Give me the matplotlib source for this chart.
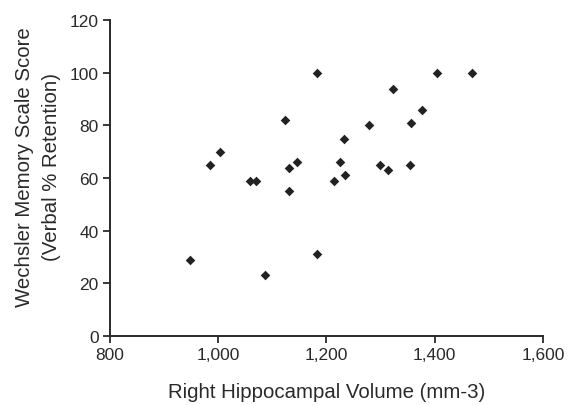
import matplotlib
matplotlib.use("Agg")
import matplotlib.pyplot as plt
from matplotlib.ticker import FuncFormatter

# right hippocampal volume (mm-3) vs verbal % retention
volume = [949, 986, 1003, 1059, 1071, 1087, 1123, 1131, 1131, 1146,
          1182, 1183, 1214, 1226, 1233, 1235, 1278, 1299, 1314, 1324,
          1354, 1357, 1376, 1405, 1469]
score = [29, 65, 70, 59, 59, 23, 82, 64, 55, 66,
         100, 31, 59, 66, 75, 61, 80, 65, 63, 94,
         65, 81, 86, 100, 100]

x_ticks = [800, 1000, 1200, 1400, 1600]
y_ticks = [0, 20, 40, 60, 80, 100, 120]

plt.rcParams['font.family'] = ['Liberation Sans', 'DejaVu Sans']
ink = '#2a2a2a'

fig = plt.figure(figsize=(5.69, 4.06), dpi=100)
ax = fig.add_axes([0.193, 0.170, 0.761, 0.778])

ax.scatter(volume, score, marker='D', s=24, color='#222222', linewidths=0, zorder=3)

ax.set_xlim(800, 1600)
ax.set_ylim(0, 120)
ax.set_xticks(x_ticks)
ax.set_yticks(y_ticks)
ax.xaxis.set_major_formatter(FuncFormatter(lambda v, p: f"{int(v):,}"))

for s in ['top', 'right']:
    ax.spines[s].set_visible(False)
for s in ['left', 'bottom']:
    ax.spines[s].set_color(ink)
    ax.spines[s].set_linewidth(1.4)

ax.tick_params(axis='both', direction='out', length=5, width=1.3,
               color=ink, labelcolor=ink, labelsize=12.5, pad=3)

ax.set_xlabel("Right Hippocampal Volume (mm-3)", fontsize=14.7, color=ink, labelpad=14)
ax.set_ylabel("Wechsler Memory Scale Score\n(Verbal % Retention)", fontsize=14.7,
              color=ink, linespacing=1.5)
ax.yaxis.set_label_coords(-0.113, 0.538)

fig.savefig("out.png", dpi=100)
